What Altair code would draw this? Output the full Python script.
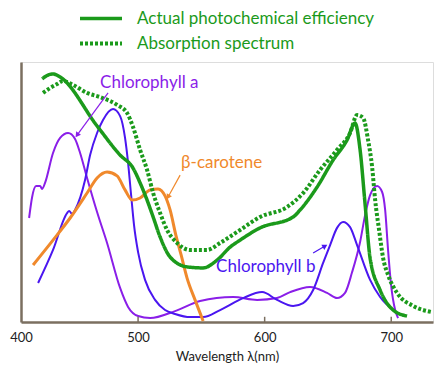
import altair as alt
import pandas as pd

# ---------------- data ----------------
# Actual photochemical efficiency (green solid)
eff_wl = [424.2, 428.1, 432.8, 438.4, 467.6, 485.8, 496.0, 501.6, 507.1, 511.9, 517.4,
          525.3, 538.7, 551.4, 562.4, 572.7, 580.6, 596.4, 622.5, 628.0, 641.4, 654.1,
          665.1, 671.4, 675.4, 679.4, 683.3, 691.2, 701.5, 712.5]
eff_val = [93.5, 94.8, 95.4, 94.2, 75.4, 64.2, 59.2, 53.5, 46.9, 40.4, 32.7,
           25.0, 21.2, 20.8, 23.8, 28.8, 31.5, 36.2, 40.4, 43.1, 51.9, 62.3,
           70.0, 76.5, 66.2, 45.0, 24.6, 12.3, 4.6, 2.3]

# Absorption spectrum (green dotted)
abs_wl = [424.9, 430.5, 436.0, 440.7, 448.6, 459.7, 470.0, 483.4, 491.3, 496.0, 501.6,
          507.1, 511.9, 517.4, 522.9, 530.8, 541.1, 554.5, 564.8, 580.6, 596.4, 617.7,
          630.4, 643.8, 657.2, 667.5, 673.0, 677.8, 681.7, 684.9, 687.3, 690.4, 693.6,
          697.5, 704.6, 717.3, 732.3]
abs_val = [88.1, 90.0, 91.5, 92.7, 91.2, 88.1, 86.5, 83.5, 80.4, 75.0, 66.2,
           58.5, 49.6, 41.9, 35.4, 30.4, 27.7, 27.7, 30.4, 35.4, 40.4, 44.2,
           49.6, 58.5, 66.2, 72.7, 79.6, 78.5, 70.0, 59.6, 46.9, 35.4, 24.6,
           18.1, 11.2, 6.2, 3.8]

# Chlorophyll a
cha_wl = [413.9, 416.3, 419.4, 422.6, 424.2, 426.5, 432.8, 438.4, 444.7, 450.2, 454.2,
          459.7, 467.6, 475.5, 485.8, 492.1, 500.0, 509.5, 529.2, 549.0, 575.1, 594.0,
          609.8, 620.1, 635.9, 649.3, 657.2, 663.5, 669.1, 675.4, 679.4, 683.3, 688.8,
          692.8, 695.2, 697.5, 699.9, 703.1, 705.4]
cha_val = [40.0, 48.1, 52.3, 52.3, 51.2, 53.5, 65.0, 70.8, 72.7, 70.4, 65.0,
           55.4, 42.3, 30.4, 13.1, 5.8, 2.3, 1.5, 4.2, 8.1, 9.6, 8.5,
           9.2, 11.5, 13.5, 11.2, 9.2, 11.2, 19.2, 30.8, 41.2, 48.8, 52.3,
           50.0, 43.1, 27.7, 14.2, 4.6, 1.5]

# Chlorophyll b
chb_wl = [421.0, 432.8, 443.9, 445.5, 447.9, 450.2, 458.1, 462.1, 467.6, 472.3, 480.2,
          485.8, 489.7, 492.1, 494.5, 496.8, 500.0, 505.5, 513.4, 521.3, 529.2, 541.1,
          551.4, 564.8, 583.0, 598.0, 609.8, 622.5, 630.4, 638.3, 646.2, 651.7, 657.2,
          662.0, 667.5, 673.0, 683.3, 691.2, 701.5]
chb_val = [15.0, 27.7, 41.9, 42.7, 41.5, 43.1, 54.6, 64.2, 72.7, 77.7, 81.9,
           79.2, 70.8, 61.2, 48.8, 37.3, 26.9, 16.2, 8.5, 4.6, 3.1, 1.9,
           1.9, 4.6, 9.2, 11.5, 8.5, 6.2, 7.3, 12.3, 22.7, 29.6, 36.2,
           38.5, 36.5, 29.6, 16.2, 9.6, 4.6]

# beta-carotene
car_wl = [417.0, 432.8, 446.3, 459.7, 467.6, 475.5, 483.4, 489.7, 495.3, 501.6, 509.5,
          515.8, 521.3, 525.3, 530.0, 534.0, 538.7, 545.0, 551.4]
car_val = [21.9, 31.5, 40.0, 49.6, 55.4, 57.7, 56.2, 50.8, 46.9, 47.7, 50.8,
           51.2, 48.5, 43.1, 33.1, 25.8, 16.9, 8.5, 0.4]

legend_names = ["Actual photochemical efficiency", "Absorption spectrum"]

# annotation labels: text, wavelength, value
label_text = ["Chlorophyll a", "β-carotene", "Chlorophyll b"]
label_wl = [470.0, 534.0, 561.6]
label_val = [91.9, 61.2, 21.2]
# arrows: start (wl, val) -> tip (wl, val)
arrow_wl0 = [476.3, 533.2, 638.3]
arrow_v0 = [88.1, 56.5, 26.5]
arrow_wl1 = [451.8, 523.7, 647.7]
arrow_v1 = [71.9, 48.1, 29.2]

tick_values = [500, 600, 700]
x_min, x_max = 407.5, 733.0

# ---------------- styling ----------------
GREEN = "#1b9a1b"
PURPLE = "#8a1ee8"
BLUE = "#4a16f0"
ORANGE = "#f0892c"
AXIS = "#7b6f60"
FONT = "Lato"

xs = alt.Scale(domain=[x_min, x_max], nice=False, zero=False)
ys = alt.Scale(domain=[0, 100], nice=False)

x_axis = alt.Axis(values=[x_min] + tick_values,
                  labelExpr="datum.value < 450 ? '400' : datum.label",
                  ticks=False, grid=False, domainColor=AXIS, domainWidth=2.5,
                  labelFontSize=13, labelColor="#222", labelFont=FONT, labelPadding=9,
                  labelFlush=False, format="d",
                  title="Wavelength λ(nm)", titleFontSize=13, titleFontWeight="normal",
                  titleFont=FONT, titleColor="#222", titlePadding=6)
y_axis = alt.Axis(labels=False, ticks=False, grid=False, title=None,
                  domainColor=AXIS, domainWidth=2.5)

def series_df(wl, val):
    return pd.DataFrame({"wl": wl, "val": val})

def curve(wl, val, color, width):
    return alt.Chart(series_df(wl, val)).mark_line(
        color=color, strokeWidth=width, interpolate="monotone").encode(
        x=alt.X("wl:Q", scale=xs, axis=x_axis),
        y=alt.Y("val:Q", scale=ys, axis=y_axis))

cha = curve(cha_wl, cha_val, PURPLE, 2)
chb = curve(chb_wl, chb_val, BLUE, 2)
car = curve(car_wl, car_val, ORANGE, 3)

green_df = pd.concat([
    pd.DataFrame({"wl": eff_wl, "val": eff_val, "series": legend_names[0]}),
    pd.DataFrame({"wl": abs_wl, "val": abs_val, "series": legend_names[1]}),
])
green = alt.Chart(green_df).mark_line(color=GREEN, interpolate="monotone").encode(
    x=alt.X("wl:Q", scale=xs, axis=x_axis),
    y=alt.Y("val:Q", scale=ys, axis=y_axis),
    strokeDash=alt.StrokeDash("series:N",
        scale=alt.Scale(domain=legend_names, range=[[1, 0], [3, 2]]),
        legend=alt.Legend(title=None, orient="none", legendX=57, legendY=-56,
                          symbolType="stroke", symbolStrokeColor=GREEN,
                          symbolStrokeWidth=4, symbolSize=1764, clipHeight=25,
                          labelColor=GREEN, labelFontSize=17, labelFont=FONT,
                          labelLimit=0, labelOffset=13, rowPadding=0, padding=0)),
    strokeWidth=alt.StrokeWidth("series:N",
        scale=alt.Scale(domain=legend_names, range=[3.5, 4]), legend=None),
)

ticks_df = pd.DataFrame({"wl": tick_values, "y0": [0] * 3, "y1": [2] * 3})
ticks = alt.Chart(ticks_df).mark_rule(color=AXIS, strokeWidth=1.5).encode(
    x=alt.X("wl:Q", scale=xs), y=alt.Y("y0:Q", scale=ys), y2="y1:Q")

lab_df = pd.DataFrame({"t": label_text, "wl": label_wl, "val": label_val,
                       "c": [PURPLE, ORANGE, BLUE]})
labels = alt.Chart(lab_df).mark_text(align="left", baseline="middle",
                                     fontSize=17, font=FONT).encode(
    x=alt.X("wl:Q", scale=xs), y=alt.Y("val:Q", scale=ys), text="t:N",
    color=alt.Color("c:N", scale=None))

arr_df = pd.DataFrame({"wl": arrow_wl0, "val": arrow_v0, "wl2": arrow_wl1, "val2": arrow_v1,
                       "c": [PURPLE, ORANGE, BLUE]})
arrow_lines = alt.Chart(arr_df).mark_rule(strokeWidth=1.2).encode(
    x=alt.X("wl:Q", scale=xs), y=alt.Y("val:Q", scale=ys), x2="wl2:Q", y2="val2:Q",
    color=alt.Color("c:N", scale=None))

def head(i, angle):
    return alt.Chart(arr_df.iloc[[i]]).mark_point(
        shape="triangle-up", filled=True, size=35, opacity=1, angle=angle).encode(
        x=alt.X("wl2:Q", scale=xs), y=alt.Y("val2:Q", scale=ys),
        color=alt.Color("c:N", scale=None))

heads = head(0, 216) + head(1, 209) + head(2, 60)

chart = alt.layer(cha, chb, car, green, ticks, arrow_lines, heads, labels).properties(
    width=412, height=260, autosize="none",
    padding={"left": 13, "top": 54, "right": 5, "bottom": 41},
).configure_view(stroke=None).configure(font=FONT)

chart.save("out.html", embed_options={"renderer": "svg", "actions": False})
